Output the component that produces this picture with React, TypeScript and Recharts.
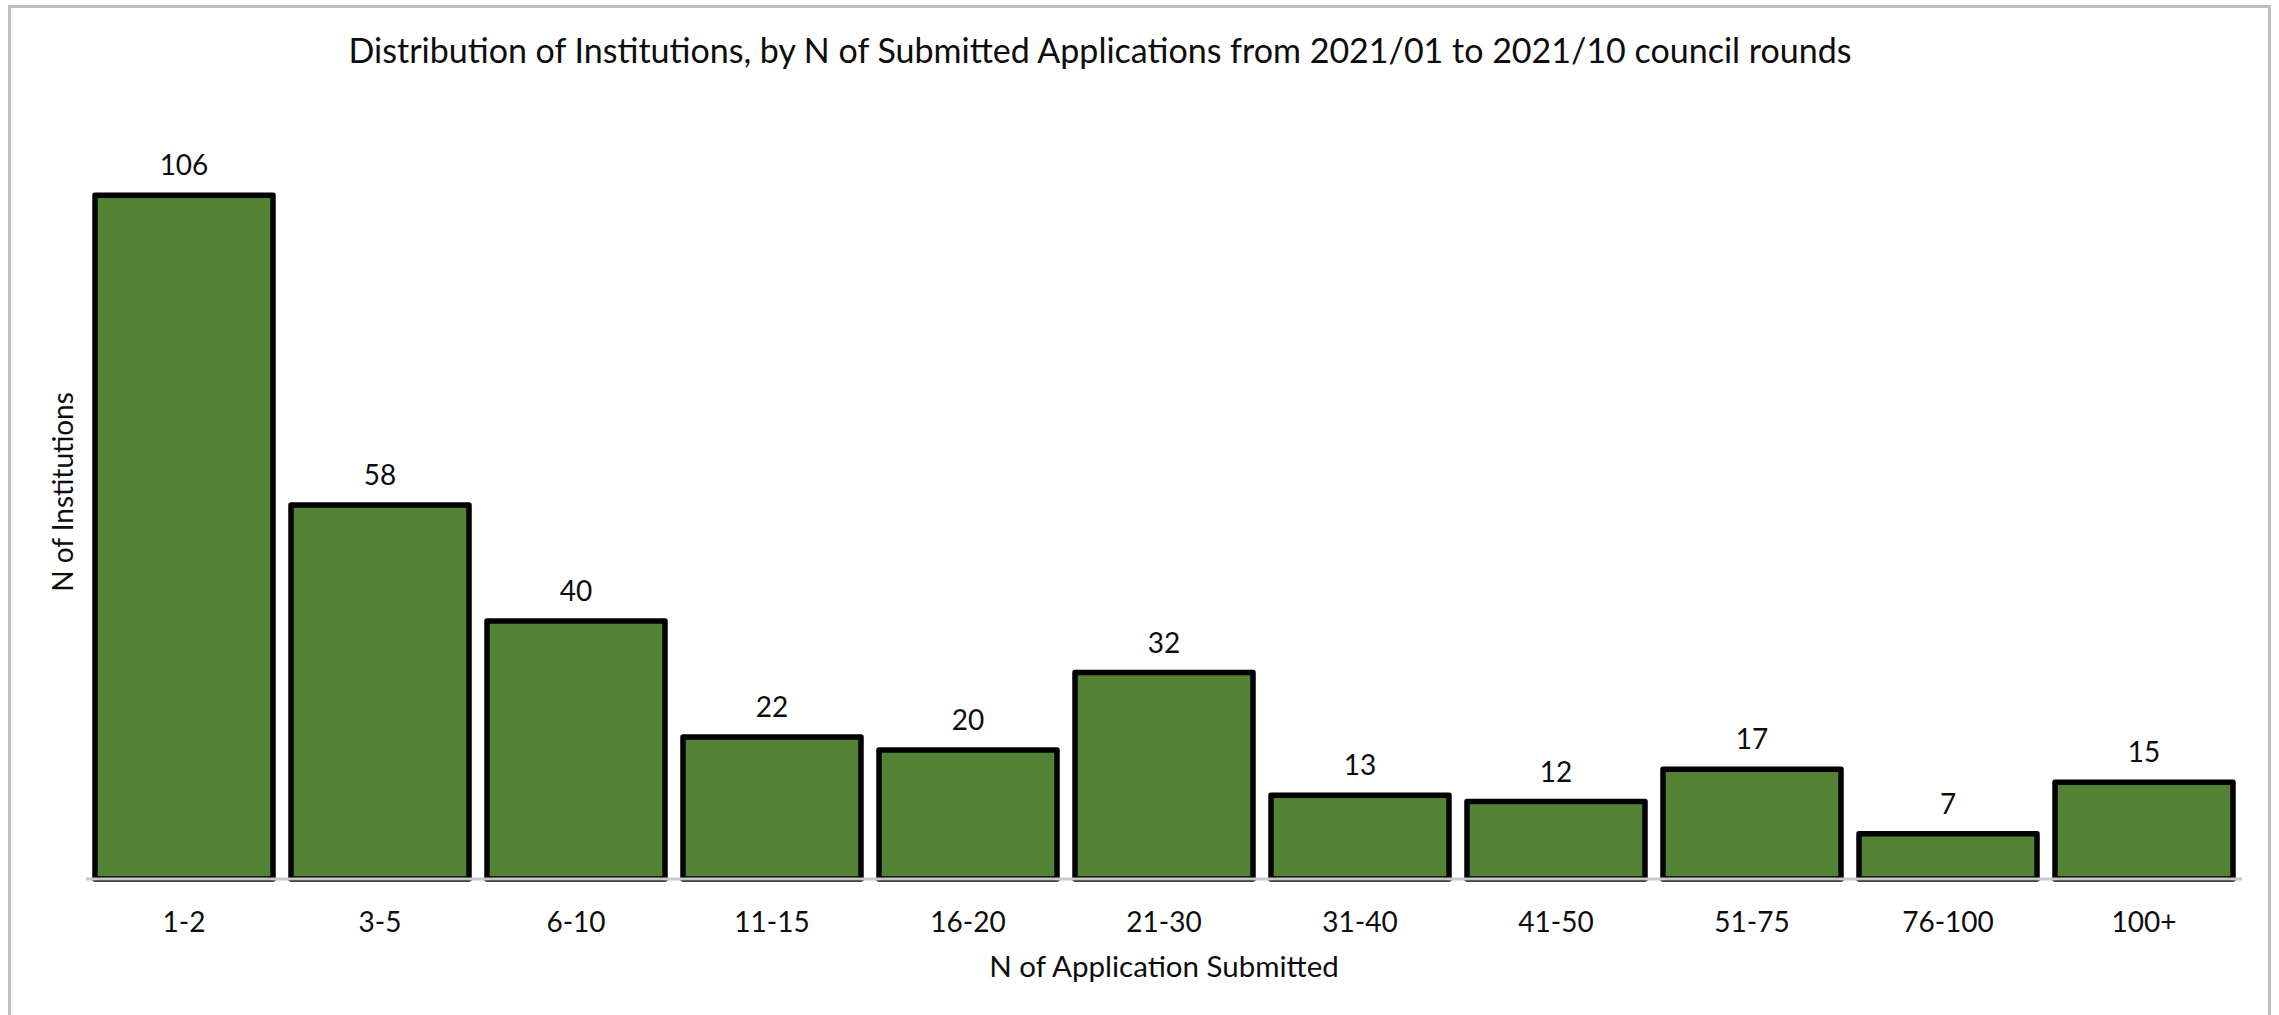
import React from 'react';
import { BarChart, Bar, XAxis, YAxis, LabelList } from 'recharts';

const categories = ['1-2', '3-5', '6-10', '11-15', '16-20', '21-30', '31-40', '41-50', '51-75', '76-100', '100+'];
const institutions = [106, 58, 40, 22, 20, 32, 13, 12, 17, 7, 15];
const yDomain = [0, 120];

const chartTitle = 'Distribution of Institutions, by N of Submitted Applications from 2021/01 to 2021/10 council rounds';
const xTitle = 'N of Application Submitted';
const yTitle = 'N of Institutions';

const data = categories.map((c, i) => ({ category: c, value: institutions[i] }));

const FONT = 'Lato, "Open Sans", sans-serif';
const TEXT = '#0d0d0d';

function XTick(props: any) {
  const { x, y, payload } = props;
  return (
    <text x={x} y={Number(y) + 53} textAnchor="middle" fontFamily={FONT} fontSize={28} fill={TEXT}>
      {payload.value}
    </text>
  );
}

function BarValue(props: any) {
  const { x, y, width, value } = props;
  return (
    <text x={Number(x) + Number(width) / 2} y={Number(y) - 20} textAnchor="middle" fontFamily={FONT} fontSize={28} fill={TEXT}>
      {value}
    </text>
  );
}

function XTitle(props: any) {
  const vb = props.viewBox || {};
  return (
    <text x={Number(vb.x) + Number(vb.width) / 2} y={Number(vb.y) + 98} textAnchor="middle" fontFamily={FONT} fontSize={29.5} fill={TEXT}>
      {xTitle}
    </text>
  );
}

function YTitle(props: any) {
  const vb = props.viewBox || {};
  const cx = 73;
  const cy = Number(vb.y) + Number(vb.height) / 2;
  return (
    <text x={cx} y={cy} transform={`rotate(-90, ${cx}, ${cy})`} textAnchor="middle" fontFamily={FONT} fontSize={28} fill={TEXT}>
      {yTitle}
    </text>
  );
}

export default function App() {
  return (
    <div style={{ position: 'absolute', left: 0, top: 0, width: 2279, height: 1015, overflow: 'hidden', background: '#fff' }}>
      <div
        style={{
          position: 'absolute',
          left: 8,
          top: 5,
          width: 2263,
          height: 1200,
          border: '3px solid #bfbfbf',
          boxSizing: 'border-box',
        }}
      />
      <svg style={{ position: 'absolute', left: 0, top: 0 }} width={2279} height={100}>
        <text x={1100} y={63} textAnchor="middle" fontFamily={FONT} fontSize={34} fill={TEXT}>
          {chartTitle}
        </text>
      </svg>
      <div style={{ position: 'absolute', left: 0, top: 0 }}>
        <BarChart
          width={2279}
          height={1015}
          data={data}
          margin={{ top: 105, right: 37, left: 0, bottom: 0 }}
          barCategoryGap={9}
        >
          <XAxis
            dataKey="category"
            height={136}
            tickSize={0}
            tickMargin={0}
            tickLine={false}
            axisLine={{ stroke: '#c8c8c8', strokeWidth: 3 }}
            tick={<XTick />}
            interval={0}
            label={{ content: <XTitle /> } as any}
          />
          <YAxis
            domain={yDomain}
            width={86}
            tick={false}
            tickLine={false}
            axisLine={false}
            label={{ content: <YTitle /> } as any}
          />
          <Bar
            dataKey="value"
            fill="#548235"
            stroke="#000"
            strokeWidth={5.5}
            strokeLinejoin="round"
            isAnimationActive={false}
          >
            <LabelList dataKey="value" content={<BarValue />} />
          </Bar>
        </BarChart>
      </div>
    </div>
  );
}
